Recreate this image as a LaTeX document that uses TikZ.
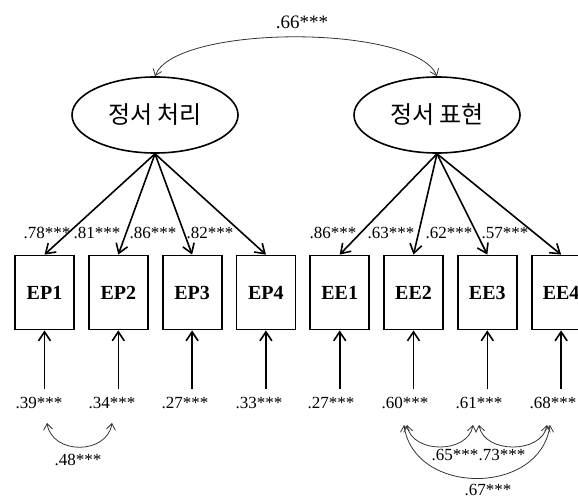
\documentclass[tikz,border=0pt]{standalone}
\usepackage{fontspec}
\setmainfont{Liberation Serif}
\newfontfamily\kor{Noto Sans CJK KR}
\usetikzlibrary{arrows.meta, positioning, shapes.geometric}

\begin{document}
\begin{tikzpicture}[
    x=1pt, y=-1pt,
    node distance=13pt,
    latent/.style={ellipse, draw, line width=1.6pt, minimum width=166pt, minimum height=76pt, inner sep=0pt, font=\kor\fontsize{24}{26}\selectfont},
    indicator/.style={rectangle, draw, line width=1.8pt, minimum width=59pt, minimum height=74pt, inner sep=0pt, font=\bfseries\fontsize{20}{22}\selectfont},
    coef/.style={inner sep=0pt, font=\fontsize{17}{19}\selectfont},
    load/.style={-{Straight Barb[length=9pt,width=12pt]}, line width=1.6pt},
    cov/.style={{Straight Barb[length=6pt,width=9pt]}-{Straight Barb[length=6pt,width=9pt]}, line width=0.8pt, black!80}
]
    \useasboundingbox (0,0) rectangle (578,500);

    % Latent factors
    \node[latent] (proc) at (155,115) {정서 처리};
    \node[latent] (expr) at (437,115) {정서 표현};

    % Indicators
    \node[indicator] (ep1) at (44.5,292.5) {EP1};
    \node[indicator, right=of ep1] (ep2) {EP2};
    \node[indicator, right=of ep2] (ep3) {EP3};
    \node[indicator, right=of ep3] (ep4) {EP4};
    \node[indicator, right=of ep4] (ee1) {EE1};
    \node[indicator, right=of ee1] (ee2) {EE2};
    \node[indicator, right=of ee2] (ee3) {EE3};
    \node[indicator, right=of ee3] (ee4) {EE4};

    % Factor correlation
    \draw[cov] (proc.north) .. controls (175,24) and (415,24) .. (expr.north);
    \node[coef, font=\fontsize{19}{21}\selectfont] (r66) at (302,22) {.66***};

    % Loadings
    \draw[load] (proc.south) -- (ep1.north);
    \draw[load] (proc.south) -- (ep2.north);
    \draw[load] (proc.south) -- (ep3.north);
    \draw[load] (proc.south) -- (ep4.north);
    \draw[load] (expr.south) -- (ee1.north);
    \draw[load] (expr.south) -- (ee2.north);
    \draw[load] (expr.south) -- (ee3.north);
    \draw[load] (expr.south) -- (ee4.north);

    \node[coef] (l1) at (47,233) {.78***};
    \node[coef] (l2) at (97,233) {.81***};
    \node[coef] (l3) at (153,233) {.86***};
    \node[coef] (l4) at (210,233) {.82***};
    \node[coef] (l5) at (333,233) {.86***};
    \node[coef] (l6) at (391,233) {.63***};
    \node[coef] (l7) at (449,233) {.62***};
    \node[coef] (l8) at (505,233) {.57***};

    % Errors
    \node[coef] (u1) at (39,403) {.39***};
    \node[coef] (u2) at (112,403) {.34***};
    \node[coef] (u3) at (185,403) {.27***};
    \node[coef] (u4) at (259,403) {.33***};
    \node[coef] (u5) at (331,403) {.27***};
    \node[coef] (u6) at (405,403) {.60***};
    \node[coef] (u7) at (479,403) {.61***};
    \node[coef] (u8) at (553,403) {.68***};

    \draw[load, shorten <=8pt] (ep1.south |- u1.north) -- (ep1.south);
    \draw[load, shorten <=8pt] (ep2.south |- u2.north) -- (ep2.south);
    \draw[load, shorten <=8pt] (ep3.south |- u3.north) -- (ep3.south);
    \draw[load, shorten <=8pt] (ep4.south |- u4.north) -- (ep4.south);
    \draw[load, shorten <=8pt] (ee1.south |- u5.north) -- (ee1.south);
    \draw[load, shorten <=8pt] (ee2.south |- u6.north) -- (ee2.south);
    \draw[load, shorten <=8pt] (ee3.south |- u7.north) -- (ee3.south);
    \draw[load, shorten <=8pt] (ee4.south |- u8.north) -- (ee4.south);

    % Error covariances
    \coordinate (c1) at (47,423);
    \coordinate (c2) at (112,423);
    \coordinate (c6) at (406,425);
    \coordinate (c7) at (476,425);
    \coordinate (c8) at (549,425);

    \draw[cov] (c1) .. controls (52,455) and (107,455) .. (c2);
    \draw[cov] ([xshift=1pt]c6) .. controls (412,454) and (468,454) .. ([xshift=-3pt]c7);
    \draw[cov] ([xshift=3pt]c7) .. controls (484,454) and (542,454) .. ([xshift=-2pt]c8);
    \draw[cov] ([xshift=-2pt]c6) .. controls (414,496) and (540,496) .. ([xshift=1pt]c8);

    \node[coef] (k1) at (78,460) {.48***};
    \node[coef] (k2) at (455,455) {.65***};
    \node[coef] (k3) at (502,455) {.73***};
    \node[coef] (k4) at (488,490) {.67***};

\end{tikzpicture}
\end{document}
